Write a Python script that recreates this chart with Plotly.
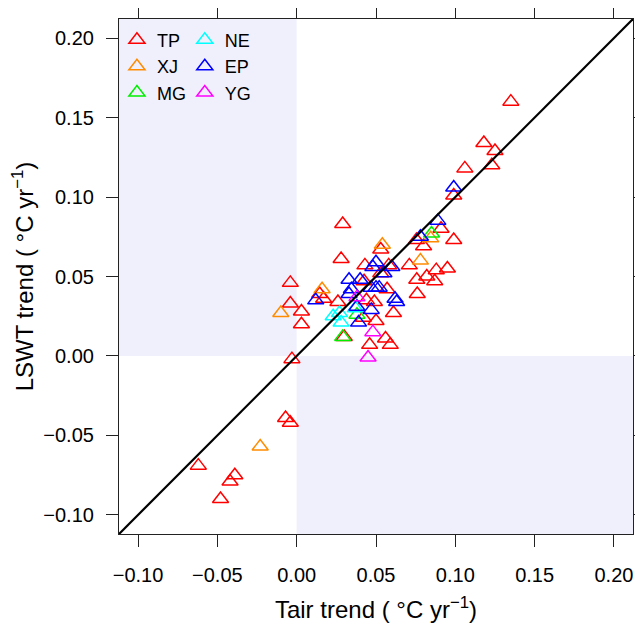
import plotly.graph_objects as go

# Tair trend (x) and LSWT trend (y), degC per year, by region
tp_x = [0.135, 0.118, 0.125, 0.123, 0.106, 0.099, 0.099, 0.091, 0.029, 0.028,
        0.0755, 0.080, 0.071, 0.0757, 0.082, 0.088, 0.095, 0.087, 0.076,
        0.043, 0.058, 0.057, 0.0425, 0.053, 0.053, -0.004, 0.0145, 0.017,
        -0.004, 0.003, 0.003, 0.026, 0.044, 0.049, 0.061, 0.042, 0.050,
        0.030, 0.046, 0.056, 0.059, -0.003, -0.007, -0.004, -0.062, -0.039,
        -0.042, -0.048]
tp_y = [0.160, 0.134, 0.129, 0.120, 0.118, 0.101, 0.073, 0.080, 0.083, 0.061,
        0.073, 0.069, 0.057, 0.048, 0.050, 0.054, 0.055, 0.047, 0.039,
        0.057, 0.057, 0.042, 0.047, 0.067, 0.052, 0.046, 0.039, 0.036,
        0.033, 0.028, 0.020, 0.034, 0.035, 0.034, 0.027, 0.024, 0.022,
        0.012, 0.007, 0.011, 0.007, -0.002, -0.039, -0.042, -0.069, -0.075,
        -0.079, -0.090]

xj_x = [0.054, 0.078, 0.0845, 0.016, -0.010, -0.023]
xj_y = [0.070, 0.060, 0.074, 0.042, 0.027, -0.057]

mg_x = [0.085, 0.038, 0.029]
mg_y = [0.077, 0.026, 0.012]

ne_x = [0.027, 0.023, 0.028, 0.037]
ne_y = [0.027, 0.025, 0.021, 0.030]

ep_x = [0.099, 0.089, 0.078, 0.050, 0.048, 0.060, 0.055, 0.033, 0.040,
        0.0345, 0.033, 0.047, 0.050, 0.052, 0.062, 0.063, 0.012, 0.038,
        0.039, 0.047]
ep_y = [0.106, 0.085, 0.075, 0.059, 0.056, 0.056, 0.052, 0.048, 0.048,
        0.042, 0.039, 0.043, 0.043, 0.043, 0.036, 0.034, 0.035, 0.031,
        0.021, 0.029]

yg_x = [0.038, 0.048, 0.045]
yg_y = [0.037, 0.015, -0.001]

regions = ["TP", "XJ", "MG", "NE", "EP", "YG"]
colors = ["#FF0000", "#FF8C00", "#00EE00", "#00FFFF", "#0000FF", "#FF00FF"]
xs = [tp_x, xj_x, mg_x, ne_x, ep_x, yg_x]
ys = [tp_y, xj_y, mg_y, ne_y, ep_y, yg_y]

lim = [-0.112, 0.212]
shade = "rgb(240,240,252)"

fig = go.Figure()
for i, name in enumerate(regions):
    fig.add_trace(go.Scatter(
        x=xs[i], y=ys[i], mode="markers", name=name,
        legend="legend" if i < 3 else "legend2",
        marker=dict(symbol="triangle-up-open", size=14, color=colors[i],
                    line=dict(width=1.5, color=colors[i]))))

# shaded quadrants (opposite signs)
fig.add_shape(type="rect", x0=lim[0], x1=0, y0=0, y1=lim[1], xref="x", yref="y",
              fillcolor=shade, line_width=0, layer="below")
fig.add_shape(type="rect", x0=0, x1=lim[1], y0=lim[0], y1=0, xref="x", yref="y",
              fillcolor=shade, line_width=0, layer="below")
# 1:1 line
fig.add_shape(type="line", x0=lim[0], y0=lim[0], x1=lim[1], y1=lim[1],
              xref="x", yref="y", line=dict(color="black", width=2.2))

font = "Liberation Sans, Arial, sans-serif"
axis = dict(range=lim, tickvals=[-0.10, -0.05, 0.0, 0.05, 0.10, 0.15, 0.20],
            tickformat=".2f", showline=True, linecolor="#222", linewidth=1.2,
            mirror="ticks", ticks="outside", ticklen=12, tickwidth=1.2,
            tickcolor="#222", showgrid=False, zeroline=False, automargin=False,
            tickfont=dict(size=20, color="black", family=font))

fig.update_xaxes(**axis, ticklabelstandoff=11,
                 title=dict(text="Tair trend ( °C yr<sup>−1</sup>)",
                            font=dict(size=24, family=font, color="black"),
                            standoff=16))
fig.update_yaxes(**axis, ticklabelstandoff=8,
                 title=dict(text="LSWT trend ( °C yr<sup>−1</sup>)",
                            font=dict(size=24, family=font, color="black"),
                            standoff=2))

leg = dict(bgcolor="rgba(0,0,0,0)", font=dict(size=18, family=font, color="black"),
           xanchor="left", yanchor="top", tracegroupgap=0, itemwidth=30)
# page body adds ~8px offset; margins compensate so plot frame lands where the reference has it
fig.update_layout(
    width=635, height=621,
    margin=dict(l=111, r=10, t=11, b=95),
    plot_bgcolor="white", paper_bgcolor="white",
    legend=dict(**leg, x=-0.004, y=0.995),
    legend2=dict(**leg, x=0.128, y=0.995),
)

fig.write_html("out.html")
